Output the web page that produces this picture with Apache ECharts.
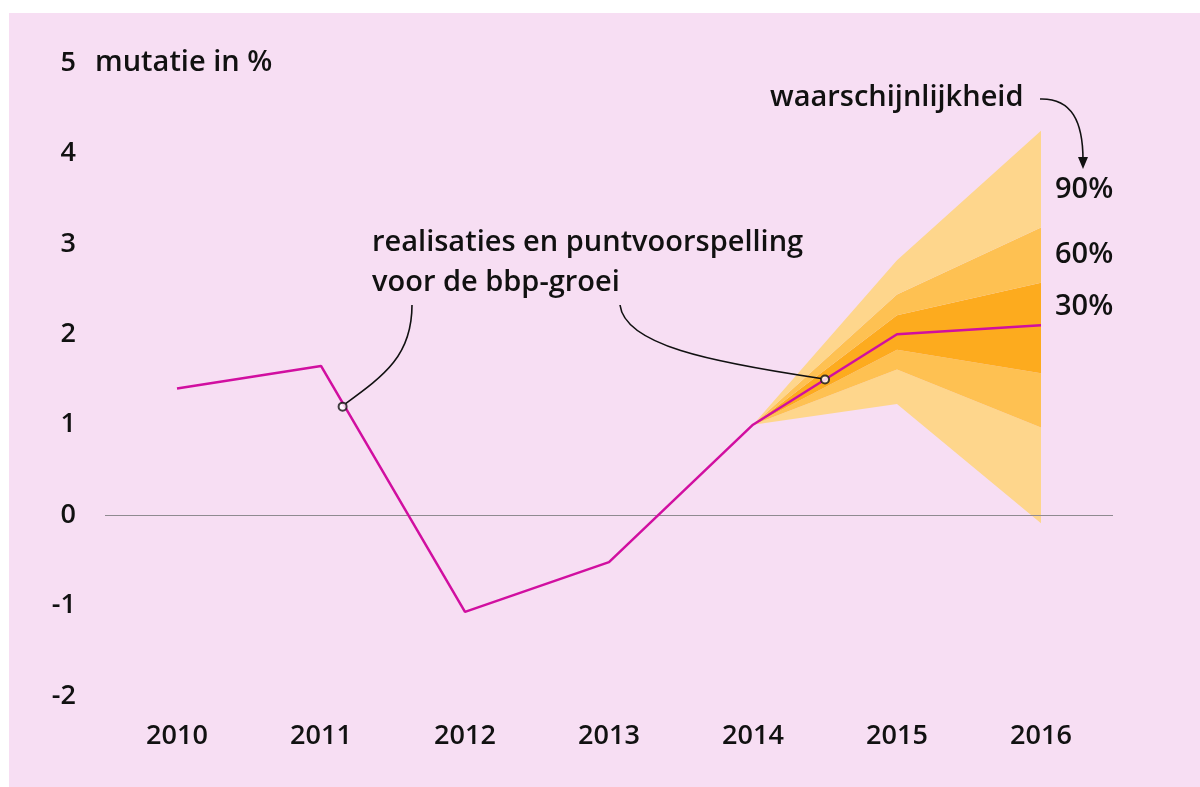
<!DOCTYPE html>
<html>
<head>
<meta charset="utf-8">
<title>bbp-groei</title>
<script src="https://cdn.jsdelivr.net/npm/echarts@6/dist/echarts.min.js"></script>
<style>
  html, body { margin: 0; padding: 0; background: #fff; }
  #chart { width: 1200px; height: 787px; }
</style>
</head>
<body>
<div id="chart"></div>
<script>
// jaren en realisaties / puntvoorspelling
const years = ['2010', '2011', '2012', '2013', '2014', '2015', '2016']
const growth = [1.4, 1.65, -1.07, -0.52, 1.0, 2.0, 2.1]

// onzekerheidsmarges (waaier), vanaf 2014
const lower90 = ['-', '-', '-', '-', 1.0, 1.23, -0.09]
const lower60 = ['-', '-', '-', '-', 1.0, 1.61, 0.97]
const lower30 = ['-', '-', '-', '-', 1.0, 1.83, 1.57]
const upper30 = ['-', '-', '-', '-', 1.0, 2.21, 2.57]
const upper60 = ['-', '-', '-', '-', 1.0, 2.44, 3.18]
const upper90 = ['-', '-', '-', '-', 1.0, 2.82, 4.25]

// punten waar de toelichting naar wijst (index op de jaar-as, waarde)
const notePoints = [[1.15, 1.2], [4.5, 1.5]]

const yTicks = [-2, -1, 0, 1, 2, 3, 4, 5]

const FONT = 'Open Sans'
const WEIGHT = 600
const INK = '#111'
const LIGHT = '#fed68c'
const MID = '#fec152'
const DARK = '#fdab1e'
const LINE = '#d10fa0'

// verschil tussen twee randen, voor de gestapelde vlakken
function diff(a, b) {
  return a.map((v, i) => (v === '-' || b[i] === '-') ? '-' : +(v - b[i]).toFixed(3))
}

function band(name, data, color) {
  return {
    name: name,
    type: 'line',
    stack: 'fan',
    stackStrategy: 'all',
    data: data,
    symbol: 'none',
    silent: true,
    lineStyle: { width: 0 },
    areaStyle: { color: color, opacity: 1 },
    z: 1
  }
}

const chart = echarts.init(document.getElementById('chart'))

chart.setOption({
  backgroundColor: '#fff',
  animation: false,
  textStyle: { fontFamily: FONT },
  grid: { left: 105, right: 87, top: 63, bottom: 91 },
  xAxis: [
    {
      type: 'category',
      data: years,
      boundaryGap: true,
      axisLine: { show: false },
      axisTick: { show: false },
      axisLabel: { color: INK, fontSize: 27, fontWeight: WEIGHT, fontFamily: FONT, margin: 27 }
    },
    {
      // verborgen as voor de toelichtingspunten tussen de jaren
      type: 'value',
      min: -0.5,
      max: 6.5,
      show: false
    }
  ],
  yAxis: {
    type: 'value',
    min: -2,
    max: 5,
    interval: 1,
    axisLine: { show: false },
    axisTick: { show: false },
    splitLine: { show: false },
    axisLabel: {
      color: INK,
      fontSize: 27,
      fontWeight: WEIGHT,
      fontFamily: FONT,
      margin: 29,
      customValues: yTicks
    }
  },
  series: [
    {
      name: 'basis',
      type: 'line',
      stack: 'fan',
      stackStrategy: 'all',
      data: lower90,
      symbol: 'none',
      silent: true,
      lineStyle: { width: 0 },
      z: 1
    },
    band('90% onder', diff(lower60, lower90), LIGHT),
    band('60% onder', diff(lower30, lower60), MID),
    band('30%', diff(upper30, lower30), DARK),
    band('60% boven', diff(upper60, upper30), MID),
    band('90% boven', diff(upper90, upper60), LIGHT),
    {
      name: 'bbp-groei',
      type: 'line',
      data: growth,
      symbol: 'none',
      silent: true,
      lineStyle: { color: LINE, width: 2.5 },
      z: 5,
      markLine: {
        silent: true,
        symbol: 'none',
        label: { show: false },
        lineStyle: { color: '#8f8a90', width: 1, type: 'solid' },
        data: [{ yAxis: 0 }]
      }
    },
    {
      name: 'toelichting',
      type: 'scatter',
      xAxisIndex: 1,
      data: notePoints,
      symbol: 'circle',
      symbolSize: 8,
      itemStyle: { color: '#fff', borderColor: INK, borderWidth: 2 },
      silent: true,
      z: 10
    }
  ]
})

// toelichtingen en pijlen, vastgemaakt aan de punten op de as
const p1 = chart.convertToPixel({ xAxisIndex: 1, yAxisIndex: 0 }, notePoints[0])
const p2 = chart.convertToPixel({ xAxisIndex: 1, yAxisIndex: 0 }, notePoints[1])
const top5 = chart.convertToPixel({ yAxisIndex: 0 }, 5)

function txt(text, x, y, align) {
  return {
    type: 'text',
    x: x,
    y: y,
    silent: true,
    z: 20,
    style: {
      text: text,
      fill: INK,
      font: WEIGHT + ' 29px "' + FONT + '"',
      align: align || 'left',
      verticalAlign: 'middle'
    }
  }
}

const curveStyle = { stroke: INK, lineWidth: 1.6, fill: null }

chart.setOption({
  graphic: [
    {
      type: 'rect',
      shape: { x: 9, y: 13, width: 1191, height: 774 },
      style: { fill: '#f7def3' },
      silent: true,
      z: -10
    },
    txt('mutatie in %', 95, top5),
    txt('waarschijnlijkheid', 770, 98),
    txt('90%', 1055, 190),
    txt('60%', 1055, 255),
    txt('30%', 1055, 307),
    txt('realisaties en puntvoorspelling', 372, 243),
    txt('voor de bbp-groei', 372, 283),
    {
      type: 'bezierCurve',
      silent: true,
      z: 15,
      shape: {
        x1: 412, y1: 305,
        cpx1: 412, cpy1: 355,
        cpx2: 385, cpy2: 375,
        x2: p1[0] + 3, y2: p1[1] - 3
      },
      style: curveStyle
    },
    {
      type: 'bezierCurve',
      silent: true,
      z: 15,
      shape: {
        x1: 620, y1: 305,
        cpx1: 625, cpy1: 345,
        cpx2: 710, cpy2: 362,
        x2: p2[0] - 4, y2: p2[1] - 1
      },
      style: curveStyle
    },
    {
      type: 'bezierCurve',
      silent: true,
      z: 15,
      shape: {
        x1: 1040, y1: 99,
        cpx1: 1072, cpy1: 98,
        cpx2: 1083, cpy2: 122,
        x2: 1083, y2: 160
      },
      style: curveStyle
    },
    {
      type: 'polygon',
      silent: true,
      z: 15,
      shape: { points: [[1078, 157], [1088, 157], [1083, 169]] },
      style: { fill: INK }
    }
  ]
})
</script>
</body>
</html>
